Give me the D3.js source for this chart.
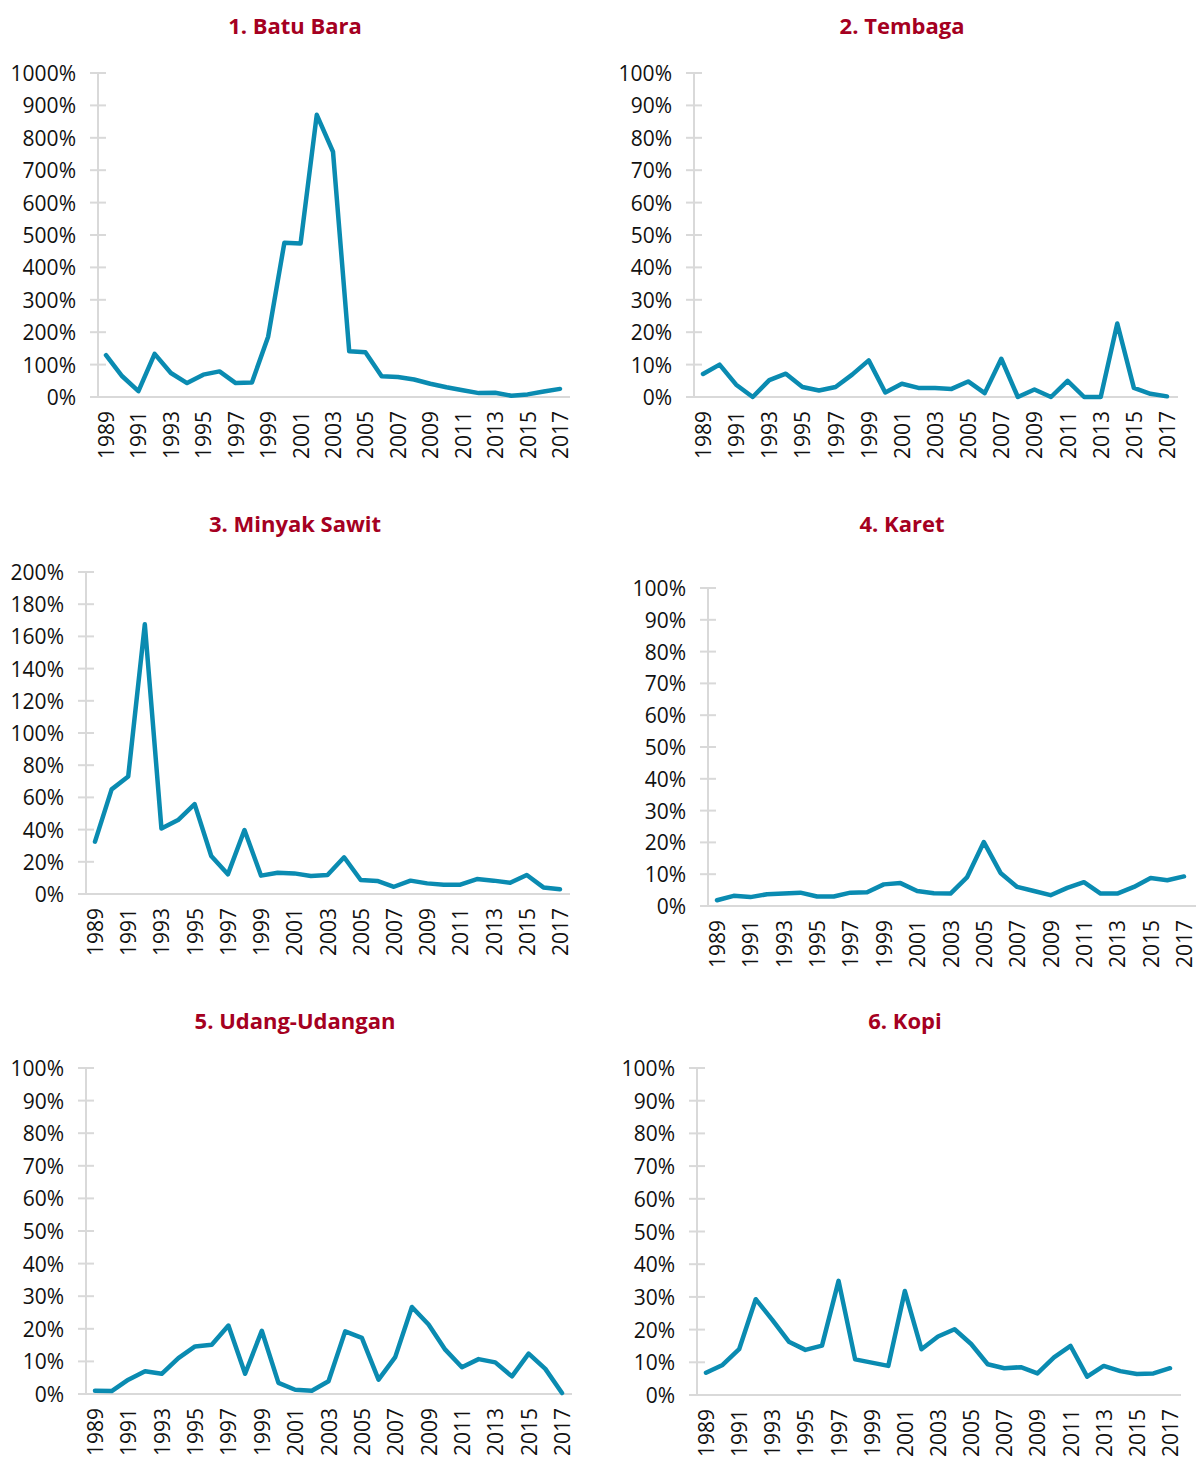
<!DOCTYPE html>
<html>
<head>
<meta charset="utf-8">
<script src="https://cdn.jsdelivr.net/npm/d3@7"></script>
<style>
  html, body { margin: 0; padding: 0; background: #ffffff; }
  svg { display: block; }
  text { font-family: "Open Sans", "Noto Sans", sans-serif; }
</style>
</head>
<body>
<svg id="chart" width="1197" height="1459"></svg>
<script>
// Years on the category axis
const years = d3.range(1989, 2018);
// Every second year is labelled
const yearLabels = years.filter(y => (y - 1989) % 2 === 0);

// Panel titles
const titles = ["1. Batu Bara", "2. Tembaga", "3. Minyak Sawit", "4. Karet", "5. Udang-Udangan", "6. Kopi"];

// Series values (percent), 1989–2017
const batuBara = [129, 64, 18, 133, 74, 43, 69, 79, 43, 45, 186, 476, 474, 871, 757, 141, 138, 64, 62, 54, 41, 30, 21, 12, 13, 4, 8, 17, 25];
const tembaga = [7.1, 10, 3.8, 0, 5.2, 7.2, 3.1, 2, 3.1, 6.9, 11.3, 1.4, 4.1, 2.8, 2.8, 2.5, 4.8, 1.2, 11.8, 0, 2.3, 0, 5, 0, 0, 22.7, 2.8, 1, 0.2];
const minyakSawit = [32.5, 65, 73, 167.5, 40.7, 45.9, 55.8, 23.6, 12.2, 39.7, 11.4, 13.2, 12.8, 11.2, 11.8, 22.8, 8.7, 8.1, 4.5, 8.3, 6.6, 5.8, 5.8, 9.3, 8.3, 7, 11.8, 4.1, 2.9];
const karet = [1.8, 3.2, 2.8, 3.7, 3.9, 4.2, 3, 3, 4.2, 4.3, 6.8, 7.2, 4.7, 4, 3.9, 9.1, 20.1, 10.4, 6, 4.7, 3.4, 5.7, 7.5, 3.9, 3.9, 6, 8.8, 8.1, 9.3];
const udang = [1, 0.9, 4.4, 7, 6.2, 11, 14.6, 15.1, 21, 6.2, 19.4, 3.4, 1.3, 1, 3.9, 19.2, 17.2, 4.4, 11.3, 26.7, 21.3, 13.6, 8.2, 10.7, 9.7, 5.4, 12.4, 7.7, 0.3];
const kopi = [6.8, 9.2, 14, 29.3, 23, 16.3, 13.8, 15.1, 34.9, 10.9, 9.9, 8.9, 31.8, 14, 17.9, 20.1, 15.6, 9.4, 8.2, 8.5, 6.6, 11.5, 15, 5.6, 8.9, 7.3, 6.4, 6.6, 8.2];

// Y-axis tick values per panel
const ticksBatuBara = d3.range(0, 1001, 100);
const ticksTembaga = d3.range(0, 101, 10);
const ticksMinyakSawit = d3.range(0, 201, 20);
const ticksKaret = d3.range(0, 101, 10);
const ticksUdang = d3.range(0, 101, 10);
const ticksKopi = d3.range(0, 101, 10);

const seriesList = [batuBara, tembaga, minyakSawit, karet, udang, kopi];
const tickList = [ticksBatuBara, ticksTembaga, ticksMinyakSawit, ticksKaret, ticksUdang, ticksKopi];

// Panel geometry: y-axis x, first/last point x, axis end x, top and zero y, title position
const layout = [
  { ax: 98,  x0: 106, x1: 560,  xe: 570,  yt: 73,  yb: 397,  tx: 295, ty: 25 },
  { ax: 694, x0: 703, x1: 1167, xe: 1178, yt: 73,  yb: 397,  tx: 902, ty: 25 },
  { ax: 86,  x0: 95,  x1: 560,  xe: 570,  yt: 572, yb: 894,  tx: 295, ty: 523 },
  { ax: 708, x0: 717, x1: 1184, xe: 1196, yt: 588, yb: 906,  tx: 902, ty: 523 },
  { ax: 86,  x0: 95,  x1: 562,  xe: 572,  yt: 1068, yb: 1394, tx: 295, ty: 1020 },
  { ax: 697, x0: 706, x1: 1170, xe: 1181, yt: 1068, yb: 1395, tx: 905, ty: 1020 }
];

const lineColor = "#0a8bb1";
const axisColor = "#d9d9d9";
const titleColor = "#a50021";

const svg = d3.select("#chart");

seriesList.forEach((values, i) => {
  const L = layout[i];
  const ticks = tickList[i];
  const g = svg.append("g");

  const x = d3.scalePoint().domain(years).range([L.x0, L.x1]);
  const y = d3.scaleLinear().domain([0, d3.max(ticks)]).range([L.yb, L.yt]);

  // Title
  g.append("text")
    .attr("x", L.tx)
    .attr("y", L.ty)
    .attr("text-anchor", "middle")
    .attr("dominant-baseline", "central")
    .attr("font-size", 22)
    .attr("font-weight", 700)
    .attr("fill", titleColor)
    .text(titles[i]);

  // Y axis line and cross ticks
  g.append("line")
    .attr("x1", L.ax).attr("x2", L.ax)
    .attr("y1", y(d3.max(ticks))).attr("y2", y(0))
    .attr("stroke", axisColor).attr("stroke-width", 2);

  g.selectAll(".ytick").data(ticks).join("line")
    .attr("x1", L.ax - 8).attr("x2", L.ax + 8)
    .attr("y1", d => y(d)).attr("y2", d => y(d))
    .attr("stroke", axisColor).attr("stroke-width", 2);

  g.selectAll(".ylab").data(ticks).join("text")
    .attr("x", L.ax - 22)
    .attr("y", d => y(d))
    .attr("text-anchor", "end")
    .attr("dominant-baseline", "central")
    .attr("font-size", 21)
    .attr("fill", "#111")
    .text(d => d + "%");

  // X axis baseline
  g.append("line")
    .attr("x1", L.ax - 8).attr("x2", L.xe)
    .attr("y1", y(0)).attr("y2", y(0))
    .attr("stroke", axisColor).attr("stroke-width", 2);

  // Rotated year labels
  g.selectAll(".xlab").data(yearLabels).join("text")
    .attr("transform", d => `translate(${x(d)},${y(0) + 14}) rotate(-90)`)
    .attr("text-anchor", "end")
    .attr("dominant-baseline", "central")
    .attr("font-size", 21)
    .attr("fill", "#111")
    .text(d => d);

  // Series line
  const line = d3.line()
    .x((d, j) => x(years[j]))
    .y(d => y(d));

  g.append("path")
    .datum(values)
    .attr("fill", "none")
    .attr("stroke", lineColor)
    .attr("stroke-width", 4.5)
    .attr("stroke-linejoin", "round")
    .attr("stroke-linecap", "round")
    .attr("d", line);
});
</script>
</body>
</html>
